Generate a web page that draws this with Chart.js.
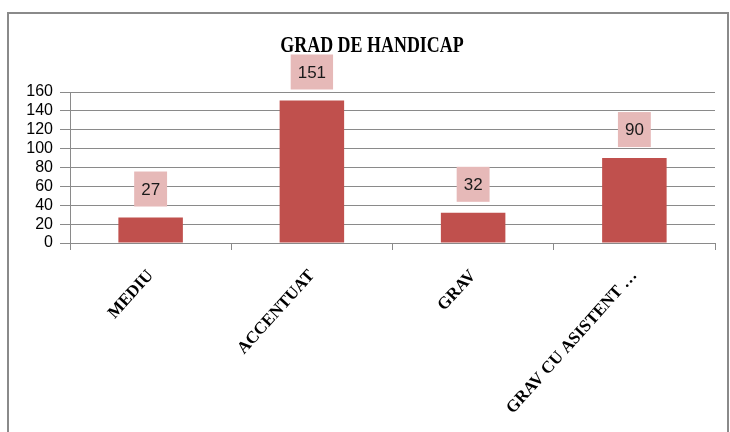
<!DOCTYPE html>
<html>
<head>
<meta charset="utf-8">
<script src="https://cdn.jsdelivr.net/npm/chart.js@4/dist/chart.umd.min.js"></script>
<style>
  html, body { margin: 0; padding: 0; background: #fff; }
  #wrap { width: 730px; height: 432px; position: relative; }
</style>
</head>
<body>
<div id="wrap"><canvas id="c" width="730" height="432"></canvas></div>
<script>
const chartTitle = "GRAD DE HANDICAP";
const categories = ["MEDIU", "ACCENTUAT", "GRAV", "GRAV CU ASISTENT …"];
const values = [27, 151, 32, 90];
const yTicks = [0, 20, 40, 60, 80, 100, 120, 140, 160];

const framePlugin = {
  id: 'frame',
  beforeDraw(chart) {
    const ctx = chart.ctx;
    ctx.save();
    ctx.fillStyle = '#fff';
    ctx.fillRect(0, 0, chart.width, chart.height);
    ctx.strokeStyle = '#8a8a8a';
    ctx.lineWidth = 2;
    ctx.strokeRect(8, 13, 720, 440);
    ctx.fillStyle = '#000';
    ctx.font = 'bold 23px "Liberation Serif"';
    ctx.textAlign = 'center';
    ctx.textBaseline = 'alphabetic';
    ctx.translate(372, 52);
    ctx.scale(0.78, 1);
    ctx.fillText(chartTitle, 0, 0);
    ctx.restore();
  }
};

const labelPlugin = {
  id: 'boxLabels',
  afterDatasetsDraw(chart) {
    const ctx = chart.ctx;
    const meta = chart.getDatasetMeta(0);
    ctx.save();
    ctx.font = '17px "Liberation Sans"';
    ctx.textAlign = 'center';
    ctx.textBaseline = 'middle';
    meta.data.forEach((bar, i) => {
      const txt = String(chart.data.datasets[0].data[i]);
      const w = ctx.measureText(txt).width + 14;
      const h = 35;
      const bottom = bar.y - 11;
      ctx.fillStyle = '#e6b9b8';
      ctx.fillRect(bar.x - w / 2, bottom - h, w, h);
      ctx.fillStyle = '#1a1a1a';
      ctx.fillText(txt, bar.x, bottom - h / 2 + 1);
    });
    ctx.restore();
  }
};

new Chart(document.getElementById('c'), {
  type: 'bar',
  data: {
    labels: categories,
    datasets: [{
      data: values,
      backgroundColor: '#c0504d',
      borderWidth: 0,
      categoryPercentage: 1,
      barPercentage: 0.4
    }]
  },
  options: {
    responsive: false,
    animation: false,
    events: [],
    layout: { padding: { left: 8, right: 15, top: 92, bottom: 0 } },
    plugins: { legend: { display: false }, title: { display: false }, tooltip: { enabled: false } },
    scales: {
      x: {
        afterFit(scale) { scale.height = 189; },
        grid: { drawOnChartArea: false, offset: true, tickLength: 7, color: '#8a8a8a' },
        border: { color: '#8a8a8a', width: 1 },
        ticks: {
          autoSkip: false, maxRotation: 48, minRotation: 48, padding: 16,
          color: '#000',
          font: { family: '"Liberation Serif"', weight: 'bold', size: 17 }
        }
      },
      y: {
        min: 0, max: 160,
        afterFit(scale) { scale.width = 62; },
        afterBuildTicks(scale) { scale.ticks = yTicks.map(v => ({ value: v })); },
        grid: { color: '#8a8a8a', tickLength: 10, lineWidth: 1 },
        border: { color: '#8a8a8a', width: 1 },
        ticks: {
          autoSkip: false, padding: 7, color: '#000',
          font: { family: '"Liberation Sans"', size: 16 }
        }
      }
    }
  },
  plugins: [framePlugin, labelPlugin]
});
</script>
</body>
</html>
